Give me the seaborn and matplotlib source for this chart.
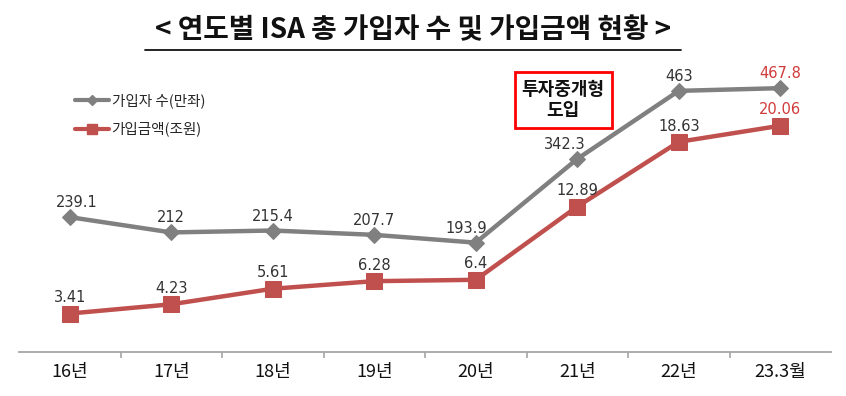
import matplotlib
matplotlib.use("Agg")
import matplotlib.pyplot as plt
import seaborn as sns
import pandas as pd
from matplotlib.patches import Rectangle
from matplotlib.lines import Line2D

sns.set_theme(style="white")
plt.rcParams['font.family'] = ['Noto Sans CJK KR', 'DejaVu Sans']

categories = ["16년", "17년", "18년", "19년", "20년", "21년", "22년", "23.3월"]
members = [239.1, 212, 215.4, 207.7, 193.9, 342.3, 463, 467.8]
amounts = [3.41, 4.23, 5.61, 6.28, 6.4, 12.89, 18.63, 20.06]
member_labels = ["239.1", "212", "215.4", "207.7", "193.9", "342.3", "463", "467.8"]
amount_labels = ["3.41", "4.23", "5.61", "6.28", "6.4", "12.89", "18.63", "20.06"]

df = pd.DataFrame({"cat": categories, "members": members, "amounts": amounts})
df["x"] = range(len(df))

GRAY = "#808080"
RED = "#c0504d"
LBL = "#333333"

fig = plt.figure(figsize=(8.46, 3.96), dpi=100)
ax = fig.add_axes([19/846, 44/396, (831-19)/846, 282/396])
ax2 = ax.twinx()

sns.lineplot(data=df, x="x", y="members", ax=ax, color=GRAY, lw=3.2,
             marker="D", markersize=8, markeredgecolor=GRAY)
sns.lineplot(data=df, x="x", y="amounts", ax=ax2, color=RED, lw=3.2,
             marker="s", markersize=11, markeredgecolor=RED)

ax.set_ylim(0, 500)
ax2.set_ylim(0, 25)
ax.set_xlim(-0.5, len(df) - 0.5)
for a in (ax, ax2):
    a.set_yticks([])
    a.set_ylabel("")
    a.set_xlabel("")
    for s in ["top", "right", "left", "bottom"]:
        a.spines[s].set_visible(False)
ax2.tick_params(axis="x", which="both", bottom=False, labelbottom=False)
ax.spines["bottom"].set_visible(True)
ax.spines["bottom"].set_color("#a6a6a6")
ax.spines["bottom"].set_linewidth(1.3)

ax.set_xticks(df["x"])
ax.set_xticklabels(categories, fontsize=13, color="#111111", fontweight="medium")
ax.tick_params(axis="x", which="major", length=0, pad=8)
# category boundary ticks
ax.set_xticks([i + 0.5 for i in range(len(df) - 1)], minor=True)
ax.tick_params(axis="x", which="minor", bottom=True, length=4, color="#a6a6a6",
               width=1.2, direction="out")

# member labels
moff = {0: (5, 5), 4: (-7, 5), 5: (-9, 5)}
for i, (v, t) in enumerate(zip(members, member_labels)):
    dx, dy = moff.get(i, (0, 5))
    col = "#d03a3a" if i == len(members) - 1 else LBL
    ax.annotate(t, (i, v), xytext=(dx, dy), textcoords="offset points",
                ha="center", va="bottom", fontsize=10.5, color=col,
                fontfamily="DejaVu Sans")
for i, (v, t) in enumerate(zip(amounts, amount_labels)):
    col = "#d03a3a" if i == len(amounts) - 1 else LBL
    ax2.annotate(t, (i, v), xytext=(0, 6), textcoords="offset points",
                 ha="center", va="bottom", fontsize=10.5, color=col,
                 fontfamily="DejaVu Sans")

# legend
handles = [Line2D([0], [0], color=GRAY, lw=3, marker="D", markersize=5),
           Line2D([0], [0], color=RED, lw=3, marker="s", markersize=7)]
fig.legend(handles, ["가입자 수(만좌)", "가입금액(조원)"], loc="upper left",
           bbox_to_anchor=(62/846, 1 - 80/396), frameon=False, fontsize=10.5,
           handlelength=2.3, handletextpad=0.2, labelspacing=0.95)

# box
fig.patches.append(Rectangle((515/846, 1 - 128/396), 97/846, 56/396,
                             transform=fig.transFigure, fill=False,
                             edgecolor="#ff0000", lw=2))
fig.text(563/846, 1 - 100/396, "투자중개형\n도입", ha="center", va="center",
         fontsize=13, fontweight="bold", color="#111111", linespacing=1.15)

# title
fig.text(413/846, 1 - 30/396, "< 연도별 ISA 총 가입자 수 및 가입금액 현황 >",
         ha="center", va="center", fontsize=20, fontweight="bold", color="#111111")
fig.add_artist(Line2D([145/846, 681/846], [1 - 50/396, 1 - 50/396],
                      transform=fig.transFigure, color="#111111", lw=1.3))

fig.savefig("out.png", dpi=100, facecolor="white")
